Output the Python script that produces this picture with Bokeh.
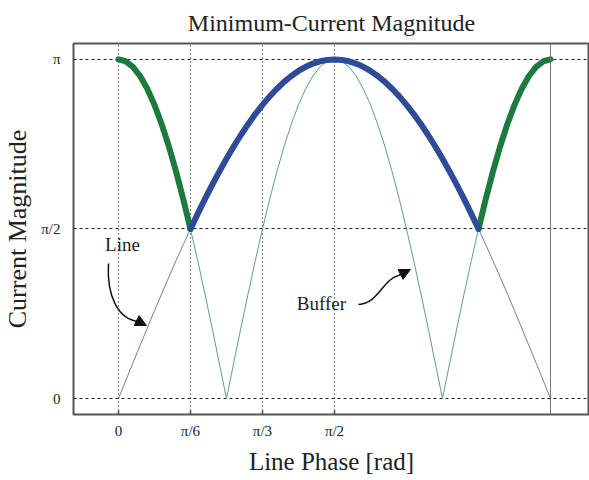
import math
from bokeh.plotting import figure
from bokeh.models import Range1d, FixedTicker, Span, Arrow, NormalHead, Label
from bokeh.embed import file_html
from bokeh.resources import INLINE

# ---- data (phase in degrees, magnitudes relative to the top value pi) ----
phase_deg = [0, 3, 6, 9, 12, 15, 18, 21, 24, 27, 30, 33, 36, 39, 42, 45, 48, 51, 54, 57,
             60, 63, 66, 69, 72, 75, 78, 81, 84, 87, 90, 93, 96, 99, 102, 105, 108, 111,
             114, 117, 120, 123, 126, 129, 132, 135, 138, 141, 144, 147, 150, 153, 156,
             159, 162, 165, 168, 171, 174, 177, 180]
line_rel = [0.0, 0.0523, 0.1045, 0.1564, 0.2079, 0.2588, 0.3090, 0.3584, 0.4067, 0.4540,
            0.5, 0.5446, 0.5878, 0.6293, 0.6691, 0.7071, 0.7431, 0.7771, 0.8090, 0.8387,
            0.8660, 0.8910, 0.9135, 0.9336, 0.9511, 0.9659, 0.9781, 0.9877, 0.9945, 0.9986,
            1.0, 0.9986, 0.9945, 0.9877, 0.9781, 0.9659, 0.9511, 0.9336, 0.9135, 0.8910,
            0.8660, 0.8387, 0.8090, 0.7771, 0.7431, 0.7071, 0.6691, 0.6293, 0.5878, 0.5446,
            0.5, 0.4540, 0.4067, 0.3584, 0.3090, 0.2588, 0.2079, 0.1564, 0.1045, 0.0523, 0.0]
buffer_rel = [1.0, 0.9945, 0.9781, 0.9511, 0.9135, 0.8660, 0.8090, 0.7431, 0.6691, 0.5878,
              0.5, 0.4067, 0.3090, 0.2079, 0.1045, 0.0, 0.1045, 0.2079, 0.3090, 0.4067,
              0.5, 0.5878, 0.6691, 0.7431, 0.8090, 0.8660, 0.9135, 0.9511, 0.9781, 0.9945,
              1.0, 0.9945, 0.9781, 0.9511, 0.9135, 0.8660, 0.8090, 0.7431, 0.6691, 0.5878,
              0.5, 0.4067, 0.3090, 0.2079, 0.1045, 0.0, 0.1045, 0.2079, 0.3090, 0.4067,
              0.5, 0.5878, 0.6691, 0.7431, 0.8090, 0.8660, 0.9135, 0.9511, 0.9781, 0.9945, 1.0]
x_tick_labels = ["0", "π/6", "π/3", "π/2"]
y_tick_labels = ["0", "π/2", "π"]

PI = math.pi
x = [d * PI / 180 for d in phase_deg]
y_line = [v * PI for v in line_rel]
y_buf = [v * PI for v in buffer_rel]
y_min = [max(a, b) for a, b in zip(y_line, y_buf)]

# buffer-dominated (green) and line-dominated (blue) parts of the minimum-current curve
i30 = phase_deg.index(30)
i150 = phase_deg.index(150)

SERIF = "Liberation Serif"
TXT = "#222222"

p = figure(frame_width=516, frame_height=371, output_backend="svg", toolbar_location=None,
           x_range=Range1d(-0.327, 3.425), y_range=Range1d(-0.148, 3.289),
           min_border_left=0, min_border_right=0, min_border_top=0, min_border_bottom=0,
           title="Minimum-Current Magnitude")
p.title.align = "center"
p.title.text_font = SERIF
p.title.text_font_size = "24px"
p.title.text_font_style = "normal"
p.title.text_color = TXT
p.title.standoff = 15

p.outline_line_color = "#555555"
p.outline_line_width = 2
p.background_fill_color = "white"
p.border_fill_color = "white"

xt = [0, PI / 6, PI / 3, PI / 2]
yt = [0, PI / 2, PI]
p.xaxis.ticker = FixedTicker(ticks=xt)
p.yaxis.ticker = FixedTicker(ticks=yt)
p.xaxis.major_label_overrides = {t: s for t, s in zip(xt, x_tick_labels)}
p.yaxis.major_label_overrides = {t: s for t, s in zip(yt, y_tick_labels)}
for ax in (p.xaxis[0], p.yaxis[0]):
    ax.axis_line_color = None
    ax.minor_tick_line_color = None
    ax.major_label_text_font = SERIF
    ax.major_label_text_font_size = "15px"
    ax.major_label_text_color = TXT
    ax.axis_label_text_font = SERIF
    ax.axis_label_text_font_style = "normal"
    ax.axis_label_text_color = TXT
p.yaxis.major_tick_line_color = None
p.xaxis.major_tick_line_color = "#444444"
p.xaxis.major_tick_line_width = 1.5
p.xaxis.major_tick_in = 4
p.xaxis.major_tick_out = 0
p.xaxis.axis_label = "Line Phase [rad]"
p.yaxis.axis_label = "Current Magnitude"
p.xaxis.axis_label_text_font_size = "25px"
p.yaxis.axis_label_text_font_size = "26px"
p.xaxis.major_label_standoff = 8
p.xaxis.axis_label_standoff = 6
p.yaxis.major_label_standoff = 7
p.yaxis.axis_label_standoff = 6

p.xgrid.grid_line_color = "#222222"
p.xgrid.grid_line_dash = "1 3"
p.xgrid.grid_line_width = 1.2
p.ygrid.grid_line_color = "#222222"
p.ygrid.grid_line_dash = "3 3"
p.ygrid.grid_line_width = 1.2

p.add_layout(Span(location=PI, dimension="height", line_color="#777777", line_width=1))

# thin curves
p.line(x, y_line, line_color="#6f7fa3", line_width=1)
p.line(x, y_buf, line_color="#5e9e8c", line_width=1)

# thick minimum-current curve
p.line(x[:i30 + 1], y_min[:i30 + 1], line_color="#1d7a3e", line_width=6, line_cap="round")
p.line(x[i150:], y_min[i150:], line_color="#1d7a3e", line_width=6, line_cap="round")
p.line(x[i30:i150 + 1], y_min[i30:i150 + 1], line_color="#2e4a99", line_width=6,
       line_cap="round", line_join="round")

# annotations
p.add_layout(Label(x=0.029, y=1.427, text="Line", text_font=SERIF, text_font_size="19px",
                   text_color=TXT, text_align="center", text_baseline="middle"))
p.add_layout(Label(x=1.476, y=0.880, text="Buffer", text_font=SERIF, text_font_size="19px",
                   text_color=TXT, text_align="center", text_baseline="middle"))

p.bezier(x0=[-0.0727], y0=[1.251], x1=[0.1454], y1=[0.7136],
         cx0=[-0.087], cy0=[0.945], cx1=[0.0], cy1=[0.732],
         line_color="#111111", line_width=1.5)
p.add_layout(Arrow(x_start=0.1454, y_start=0.7136, x_end=0.2036, y_end=0.6765,
                   line_color="#111111", line_width=1.5,
                   end=NormalHead(size=11, fill_color="#111111", line_color="#111111")))
p.bezier(x0=[1.745], y0=[0.871], x1=[2.036], y1=[1.140],
         cx0=[1.891], cy0=[0.880], cx1=[1.920], cy1=[1.103],
         line_color="#111111", line_width=1.5)
p.add_layout(Arrow(x_start=2.036, y_start=1.140, x_end=2.123, y_end=1.195,
                   line_color="#111111", line_width=1.5,
                   end=NormalHead(size=11, fill_color="#111111", line_color="#111111")))

open("out.html", "w").write(file_html(p, INLINE))
